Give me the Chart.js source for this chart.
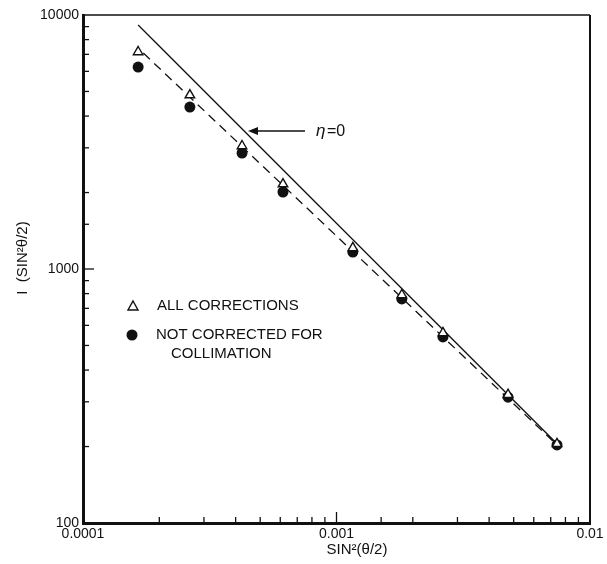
<!DOCTYPE html>
<html>
<head>
<meta charset="utf-8">
<script src="https://cdn.jsdelivr.net/npm/chart.js@4.4.0/dist/chart.umd.min.js"></script>
<style>
  html, body { margin: 0; background: #fff; }
  #wrap { width: 607px; height: 564px; }
</style>
</head>
<body>
<div id="wrap"><canvas id="chart" width="607" height="564"></canvas></div>
<script>
// sin^2(theta/2) of the measured points
const sinSq = [1.65e-4, 2.64e-4, 4.24e-4, 6.15e-4, 1.16e-3, 1.81e-3, 2.63e-3, 4.75e-3, 7.41e-3];
// I * sin^2(theta/2), all corrections (open triangles)
const allCorrections = [7150, 4840, 3050, 2160, 1210, 790, 560, 320, 205];
// not corrected for collimation (filled dots)
const notCorrected = [6240, 4340, 2860, 2010, 1166, 762, 540, 313, 203];
// eta = 0 line (solid)
const etaZeroX = [1.65e-4, 7.41e-3];
const etaZeroY = [9140, 205];
// fitted dashed line
const dashedX = [1.73e-4, 7.41e-3];
const dashedY = [7080, 203];

const xLabels = { "-4": "0.0001", "-3": "0.001", "-2": "0.01" };
const yLabels = { "2": "100", "3": "1000", "4": "10000" };

const INK = "#111";
const FONT = "'Liberation Sans', 'DejaVu Sans', sans-serif";

function decade(v) {
  const l = Math.log10(v);
  return Math.abs(l - Math.round(l)) < 1e-6 ? Math.round(l) : null;
}

const pts = (xs, ys) => xs.map((x, i) => ({ x: x, y: ys[i] }));

// frame, inward ticks, legend, annotation and axis titles
const decorations = {
  id: "decorations",
  afterDraw(chart) {
    const c = chart.ctx;
    const a = chart.chartArea;
    const xs = chart.scales.x;
    const ys = chart.scales.y;
    c.save();
    c.strokeStyle = INK;
    c.fillStyle = INK;

    // top and right border
    c.lineWidth = 1.5;
    c.beginPath();
    c.moveTo(a.left, a.top);
    c.lineTo(a.right, a.top);
    c.stroke();
    c.lineWidth = 2;
    c.beginPath();
    c.moveTo(a.right, a.top);
    c.lineTo(a.right, a.bottom);
    c.stroke();

    // inward ticks
    c.lineWidth = 1.3;
    xs.ticks.forEach((t) => {
      const px = xs.getPixelForValue(t.value);
      if (px <= a.left + 1 || px >= a.right - 1) return;
      const len = decade(t.value) !== null ? 11 : 6;
      c.beginPath();
      c.moveTo(px, a.bottom);
      c.lineTo(px, a.bottom - len);
      c.stroke();
    });
    ys.ticks.forEach((t) => {
      const py = ys.getPixelForValue(t.value);
      if (py <= a.top + 1 || py >= a.bottom - 1) return;
      const len = decade(t.value) !== null ? 11 : 6;
      c.beginPath();
      c.moveTo(a.left, py);
      c.lineTo(a.left + len, py);
      c.stroke();
    });

    // legend
    c.font = "15px " + FONT;
    c.textBaseline = "middle";
    c.textAlign = "left";
    c.lineWidth = 1.4;
    c.beginPath();
    c.moveTo(133, 301);
    c.lineTo(138, 310);
    c.lineTo(128, 310);
    c.closePath();
    c.stroke();
    c.fillText("ALL CORRECTIONS", 157, 306);
    c.beginPath();
    c.arc(132, 335, 5.5, 0, Math.PI * 2);
    c.fill();
    c.fillText("NOT CORRECTED FOR", 156, 335);
    c.fillText("COLLIMATION", 171, 354);

    // eta = 0 arrow
    c.lineWidth = 1.3;
    c.beginPath();
    c.moveTo(305, 131);
    c.lineTo(254, 131);
    c.stroke();
    c.beginPath();
    c.moveTo(248, 131);
    c.lineTo(258, 127);
    c.lineTo(258, 135);
    c.closePath();
    c.fill();
    c.font = "italic 17px " + FONT;
    c.fillText("η", 316, 131);
    c.font = "16px " + FONT;
    c.fillText("=0", 327, 132);

    // axis titles
    c.font = "15px " + FONT;
    c.textAlign = "center";
    c.fillText("SIN²(θ/2)", 357, 550);
    c.translate(23, 258);
    c.rotate(-Math.PI / 2);
    c.fillText("I  (SIN²θ/2)", 0, 0);
    c.restore();
  }
};

new Chart(document.getElementById("chart"), {
  type: "scatter",
  data: {
    datasets: [
      {
        label: "ALL CORRECTIONS",
        data: pts(sinSq, allCorrections),
        pointStyle: "triangle",
        pointRadius: 5.5,
        borderColor: INK,
        backgroundColor: "#fff",
        borderWidth: 1.4,
        order: 0
      },
      {
        label: "NOT CORRECTED FOR COLLIMATION",
        data: pts(sinSq, notCorrected),
        pointStyle: "circle",
        pointRadius: 5.5,
        borderColor: INK,
        backgroundColor: INK,
        borderWidth: 0,
        order: 1
      },
      {
        label: "eta = 0",
        data: pts(etaZeroX, etaZeroY),
        showLine: true,
        pointRadius: 0,
        borderColor: INK,
        borderWidth: 1.3,
        order: 2
      },
      {
        label: "dashed",
        data: pts(dashedX, dashedY),
        showLine: true,
        pointRadius: 0,
        borderColor: INK,
        borderWidth: 1.3,
        borderDash: [9, 6],
        order: 3
      }
    ]
  },
  options: {
    responsive: false,
    animation: false,
    layout: { padding: { top: 15, right: 17, left: 0, bottom: 0 } },
    plugins: {
      legend: { display: false },
      tooltip: { enabled: false }
    },
    scales: {
      x: {
        type: "logarithmic",
        min: 1e-4,
        max: 1e-2,
        grid: { display: false, drawTicks: false, tickLength: 0 },
        border: { display: true, width: 3, color: INK },
        ticks: {
          autoSkip: false,
          maxRotation: 0,
          padding: 3,
          color: INK,
          font: { family: FONT, size: 14 },
          callback: (v) => {
            const d = decade(v);
            return d !== null && xLabels[d] ? xLabels[d] : "";
          }
        },
        afterFit: (s) => { s.height = 41; }
      },
      y: {
        type: "logarithmic",
        min: 100,
        max: 10000,
        grid: { display: false, drawTicks: false, tickLength: 0 },
        border: { display: true, width: 3, color: INK },
        ticks: {
          autoSkip: false,
          padding: 4,
          color: INK,
          font: { family: FONT, size: 14 },
          callback: (v) => {
            const d = decade(v);
            return d !== null && yLabels[d] ? yLabels[d] : "";
          }
        },
        afterFit: (s) => { s.width = 83; }
      }
    }
  },
  plugins: [decorations]
});
</script>
</body>
</html>
